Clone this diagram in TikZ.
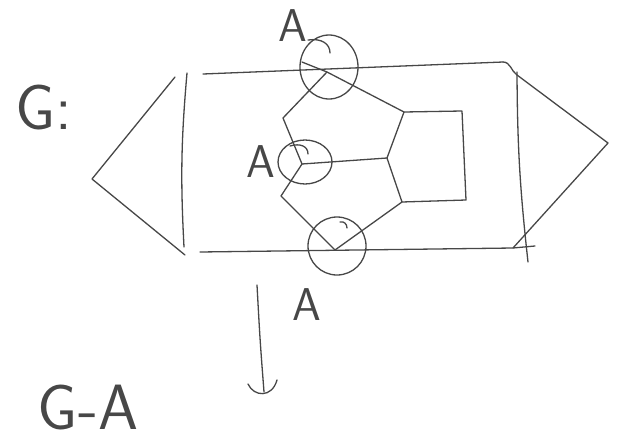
\documentclass[tikz,border=0pt]{standalone}
\usetikzlibrary{shapes.geometric}

\begin{document}
\begin{tikzpicture}[x=1pt, y=-1pt, line width=1.3pt, color=black!72, line cap=round, line join=round,
  ring/.style={ellipse, draw, inner sep=0pt},
  lbl/.style={font=\sffamily\fontsize{46}{50}\selectfont, inner sep=0pt},
  biglbl/.style={font=\sffamily\fontsize{64}{68}\selectfont, inner sep=0pt}]
  \useasboundingbox (0,0) rectangle (621,442);
  % labels
  \node[biglbl] (gTop) at (44,108) {G:};
  \node[biglbl] (gMinusA) at (88,408) {G-A};
  \node[lbl] (aTop) at (293,26) {A};
  \node[lbl] (aMid) at (261,162) {A};
  \node[lbl] (aBot) at (307,305) {A};
  % left cap
  \coordinate (lTop) at (175,77);
  \coordinate (lApex) at (92,179);
  \coordinate (lBot) at (185,255);
  \coordinate (lvTop) at (187,73);
  \coordinate (lvBot) at (184,247);
  \draw (lTop) -- (lApex) -- (lBot);
  \draw (lvTop) to[bend right=4] (lvBot);
  % band
  \coordinate (tL) at (203,74);
  \coordinate (tR) at (503,62);
  \coordinate (bL) at (200,252);
  \coordinate (bR) at (513,248);
  \coordinate (bEnd) at (535,246);
  \draw (tL) -- (tR);
  \draw (bL) -- (bR) -- (bEnd);
  % right cap
  \coordinate (rTop) at (517,75);
  \coordinate (rApex) at (608,143);
  \coordinate (rvTop) at (517,72);
  \coordinate (rvBot) at (528,262);
  \draw (tR) to[out=0, in=145] (rTop) -- (rApex) -- (bR);
  \draw (rvTop) to[bend right=3] (rvBot);
  % the three rings
  \node[ring, minimum width=58pt, minimum height=64pt] (ringT) at (329,67) {};
  \node[ring, minimum width=54pt, minimum height=44pt] (ringM) at (305,162) {};
  \node[ring, minimum width=58pt, minimum height=58pt] (ringB) at (337,246) {};
  \draw (308,40) .. controls (322,38) and (330,44) .. (330,53);
  \draw (290,146) .. controls (300,143) and (308,146) .. (308,154);
  \draw (340,222) .. controls (344,221) and (347,224) .. (347,228);
  % box
  \coordinate (boxTL) at (404,112);
  \coordinate (boxTR) at (462,111);
  \coordinate (boxBR) at (466,200);
  \coordinate (boxBL) at (402,202);
  \coordinate (notch) at (387,158);
  \draw (notch) -- (boxTL) -- (boxTR) -- (boxBR) -- (boxBL) -- (notch);
  % inner lines
  \coordinate (chordL) at (302,62);
  \coordinate (pT) at (327,72);
  \coordinate (kink) at (283,118);
  \coordinate (pM) at (302,164);
  \coordinate (mLow) at (281,196);
  \coordinate (pB) at (335,250);
  \draw (chordL) -- (pT) -- (boxTL);
  \draw (pT) -- (kink) -- (pM) -- (notch);
  \draw (pM) -- (mLow) -- (pB) -- (boxBL);
  % arrow down
  \coordinate (arrTop) at (257,285);
  \coordinate (arrBot) at (264,392);
  \coordinate (tipL) at (248,384);
  \coordinate (tipR) at (277,380);
  \draw (arrTop) .. controls (260,340) .. (arrBot);
  \draw (tipL) .. controls (254,397) and (272,398) .. (tipR);
\end{tikzpicture}
\end{document}
